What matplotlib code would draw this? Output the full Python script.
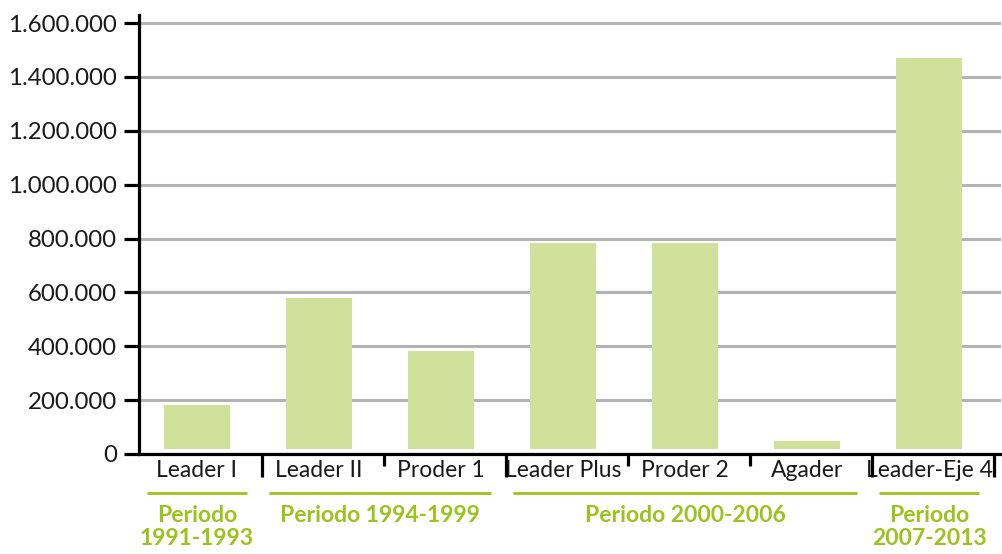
import matplotlib.pyplot as plt
from matplotlib.ticker import FuncFormatter
import matplotlib.transforms as mtransforms

plt.rcParams['font.family'] = ['Lato', 'DejaVu Sans']

programas = ["Leader I", "Leader II", "Proder 1", "Leader Plus", "Proder 2", "Agader", "Leader-Eje 4"]
valores = [182000, 580000, 382000, 782000, 782000, 48000, 1470000]
# grupos: (primer indice, ultimo indice, etiqueta)
periodos = [
    (0, 0, "Periodo\n1991-1993"),
    (1, 2, "Periodo 1994-1999"),
    (3, 5, "Periodo 2000-2006"),
    (6, 6, "Periodo\n2007-2013"),
]

verde_barra = "#d1e09b"
verde_texto = "#9cc31d"

fig = plt.figure(figsize=(10.03, 5.54), dpi=100)
ax = fig.add_axes([139 / 1003, 100 / 554, 862 / 1003, 439 / 554])

# las barras arrancan un poco por encima del eje
base = 18000
x = range(len(programas))
ax.bar(x, [v - base for v in valores], bottom=base, width=0.54, color=verde_barra, zorder=3)

ax.set_xlim(-0.475, len(programas) - 0.41)
ax.set_ylim(0, 1630000)
ax.set_yticks(range(0, 1600001, 200000))
ax.yaxis.set_major_formatter(FuncFormatter(lambda v, p: f"{v:,.0f}".replace(",", ".")))
ax.grid(axis="y", color="#b3b3b3", linewidth=2.2, zorder=1)

for s in ["top", "right"]:
    ax.spines[s].set_visible(False)
for s in ["left", "bottom"]:
    ax.spines[s].set_linewidth(2.3)
    ax.spines[s].set_zorder(4)

ax.tick_params(axis="y", length=11, width=2.3, pad=5, labelsize=17.3, labelcolor="#1a1a1a")
ax.set_xticks(list(x))
ax.set_xticklabels(programas)
ax.tick_params(axis="x", length=0, pad=4, labelsize=16.5, labelcolor="#1a1a1a")

trans = mtransforms.blended_transform_factory(ax.transData, ax.transAxes)

# separadores del eje x: largos entre periodos, cortos dentro del periodo
fin_grupos = [g[1] for g in periodos]
for i in range(len(programas)):
    largo = 0.053 if i in fin_grupos else 0.027
    xs = min(i + 0.53, len(programas) - 0.43)
    ax.plot([xs, xs], [0, -largo], transform=trans, color="black",
            linewidth=2.3, clip_on=False, solid_capstyle="butt", zorder=5)

# periodos: linea verde y etiqueta
for ini, fin, etiqueta in periodos:
    ax.plot([ini - 0.41, fin + 0.41], [-0.089, -0.089], transform=trans, color=verde_texto,
            linewidth=2, clip_on=False, solid_capstyle="butt")
    ax.text((ini + fin) / 2, -0.116, etiqueta, transform=trans, ha="center", va="top",
            color=verde_texto, fontsize=16.5, fontweight="bold", linespacing=1.1)

fig.savefig("out.png", dpi=100)
